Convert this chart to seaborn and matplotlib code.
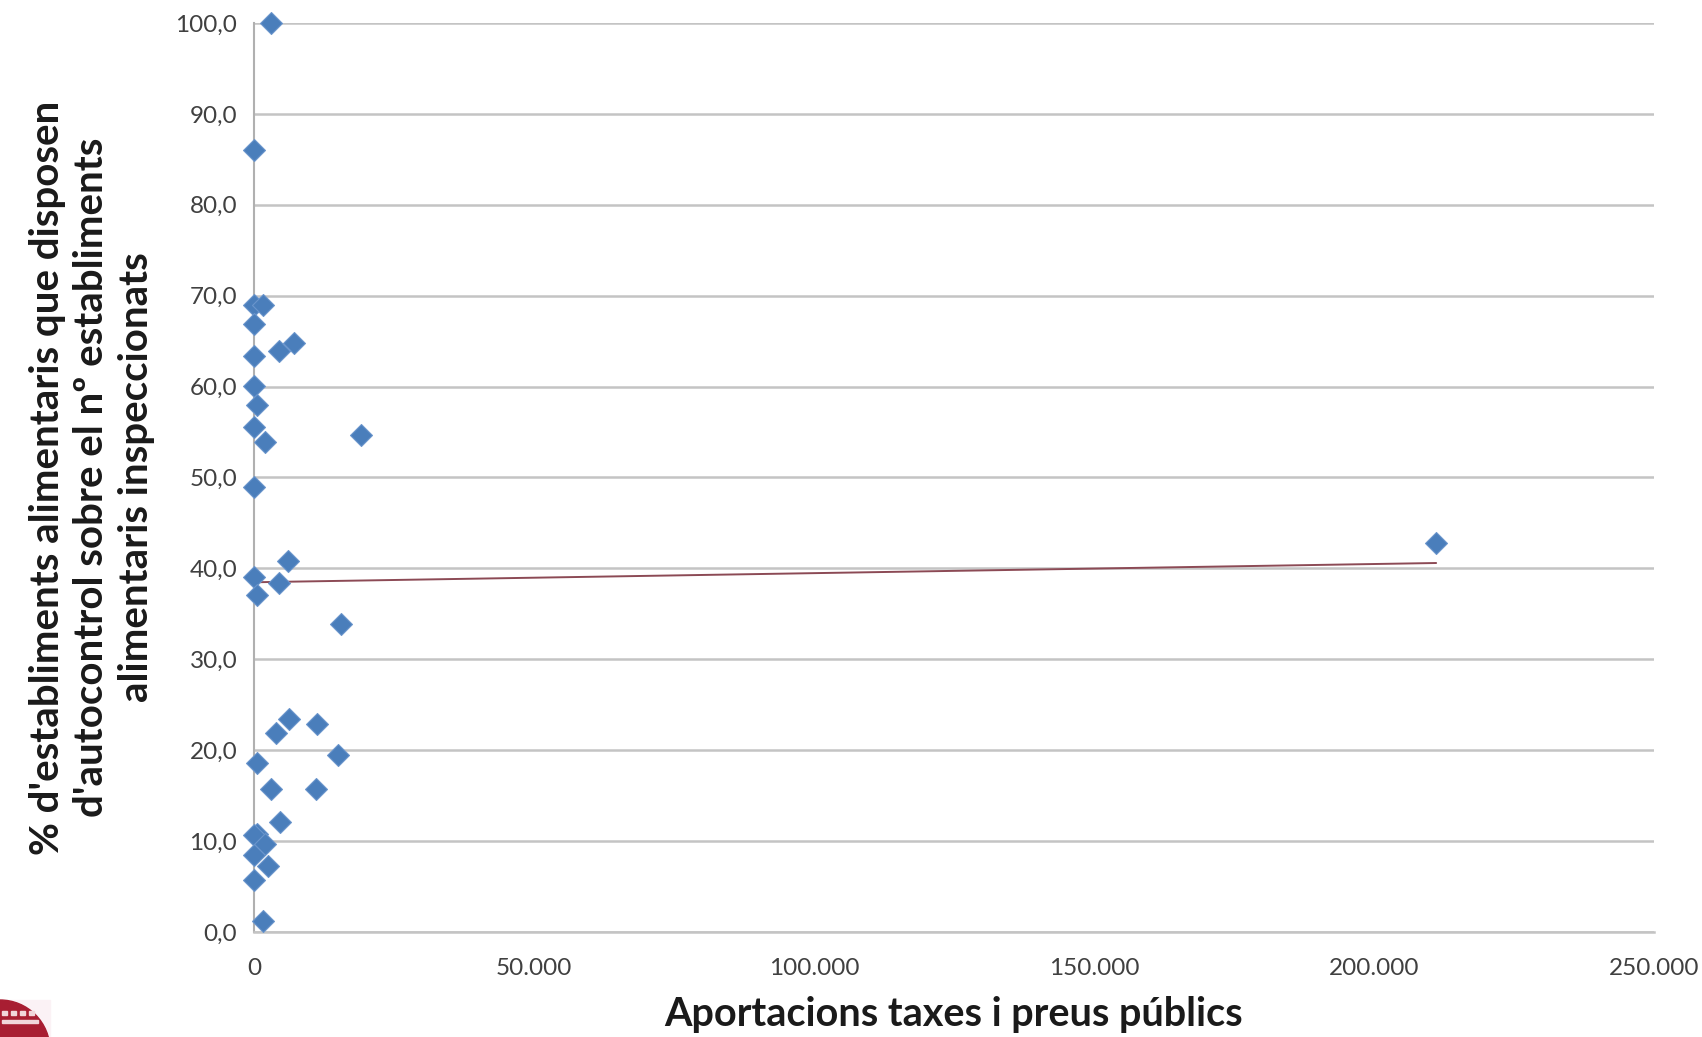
import numpy as np
import pandas as pd
import matplotlib
matplotlib.use("Agg")
import matplotlib.pyplot as plt
import matplotlib.ticker as mticker
from matplotlib.patches import Ellipse, Rectangle
import seaborn as sns

# Data
aportacions = [2980, 0, 0, 1670, 0, 4400, 7200, 0, 0, 600, 0, 2000, 19100, 0,
               6070, 0, 4400, 480, 15540, 6250, 3930, 11250, 15000, 600, 2980,
               11000, 4640, 600, 0, 2000, 0, 2560, 0, 1550, 211100]
percent = [100.0, 86.0, 69.0, 69.0, 66.9, 63.9, 64.8, 63.4, 60.1, 58.0, 55.5, 53.9,
           54.7, 49.0, 40.8, 39.0, 38.4, 37.1, 33.9, 23.4, 21.9, 22.9, 19.5, 18.6,
           15.7, 15.7, 12.1, 10.8, 10.7, 9.7, 8.5, 7.3, 5.7, 1.2, 42.8]
x_ticks = [0, 50000, 100000, 150000, 200000, 250000]
y_ticks = [0, 10, 20, 30, 40, 50, 60, 70, 80, 90, 100]
x_label = "Aportacions taxes i preus públics"
y_label = ("% d'establiments alimentaris que disposen\n"
           "d'autocontrol sobre el nº establiments\n"
           "alimentaris inspeccionats")

df = pd.DataFrame({"x": aportacions, "y": percent})

sns.set_style("white")
plt.rcParams['font.family'] = ['Lato', 'DejaVu Sans']

W, H = 1702, 1037
fig = plt.figure(figsize=(W / 100, H / 100), dpi=100)
ax = fig.add_axes([0.1492, 0.1013, 0.9718 - 0.1492, 0.9778 - 0.1013])

grid_c = "#c4c4c4"
ax.set_axisbelow(True)
ax.yaxis.grid(True, color=grid_c, linewidth=1.8)
ax.xaxis.grid(False)

sns.regplot(data=df, x="x", y="y", scatter=False, ci=None, truncate=True,
            line_kws=dict(color="#8c4a55", linewidth=1.4), ax=ax)
sns.scatterplot(data=df, x="x", y="y", marker="D", s=125, color="#4a7ebb",
                edgecolor="#6a95cc", linewidth=0.8, ax=ax, zorder=3, clip_on=False)

ax.set_xlim(0, 250000)
ax.set_ylim(0, 100)
ax.set_xticks(x_ticks)
ax.set_yticks(y_ticks)
ax.xaxis.set_major_formatter(mticker.FuncFormatter(lambda v, p: f"{int(v):,}".replace(",", ".")))
ax.yaxis.set_major_formatter(mticker.FuncFormatter(lambda v, p: f"{v:.1f}".replace(".", ",")))
ax.tick_params(axis="both", which="major", labelsize=17.5, labelcolor="#404040",
               color=grid_c, length=7, width=1.5, direction="out")
ax.tick_params(axis="x", pad=12)
ax.tick_params(axis="y", pad=5)

for s in ["top", "right"]:
    ax.spines[s].set_visible(False)
ax.spines["left"].set_color("#b0b0b0")
ax.spines["left"].set_linewidth(1.5)
ax.spines["bottom"].set_color(grid_c)
ax.spines["bottom"].set_linewidth(1.8)

ax.set_xlabel(x_label, fontsize=28.5, fontweight="bold", color="#1a1a1a", labelpad=12)
ax.set_ylabel(y_label, fontsize=29, fontweight="bold", color="#1a1a1a",
              linespacing=1.25)
ax.yaxis.set_label_coords(-0.071, 0.5)

# logo fragment in the bottom-left corner
fig.patches.append(Rectangle((0, 0), 50 / W, 37 / H, transform=fig.transFigure,
                             color="#fbf2f5", zorder=4))
fig.patches.append(Ellipse((0, -13 / H), 100 / W, 100 / H, transform=fig.transFigure,
                           color="#a81e32", zorder=5))
for i in range(4):
    fig.patches.append(Rectangle(((2 + i * 9) / W, 22 / H), 5 / W, 4 / H,
                                 transform=fig.transFigure, color="#f1d6da", zorder=6))
fig.patches.append(Rectangle((2 / W, 14 / H), 36 / W, 3 / H,
                             transform=fig.transFigure, color="#f1d6da", zorder=6))

fig.savefig("out.png", dpi=100)
